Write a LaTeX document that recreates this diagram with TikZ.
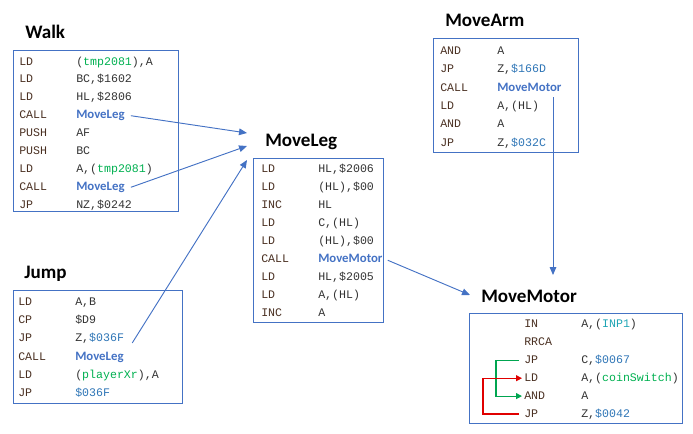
\documentclass[tikz,border=0pt]{standalone}
\usepackage{fontspec}
\setmainfont{Carlito}
\setsansfont{Carlito}
\setmonofont{Liberation Mono}
\usepackage{xcolor}
\usetikzlibrary{arrows.meta, positioning}

\definecolor{boxblue}{HTML}{4472C4}
\definecolor{hexblue}{HTML}{2E75B6}
\definecolor{symgreen}{HTML}{00B050}
\definecolor{portteal}{HTML}{1FA5B5}
\definecolor{mnem}{HTML}{4A3022}
\definecolor{optext}{HTML}{333333}
\definecolor{jumpgreen}{HTML}{00A550}
\definecolor{jumpred}{HTML}{E00000}

\newcommand{\mn}[1]{\makebox[42.75pt][l]{\color{mnem}#1}}
\newcommand{\hexv}[1]{{\color{hexblue}#1}}
\newcommand{\symb}[1]{{\color{symgreen}#1}}
\newcommand{\port}[1]{{\color{portteal}#1}}
\newcommand{\callee}[1]{{\sffamily\bfseries\fontsize{9.6}{12}\selectfont\color{boxblue}#1}}

\begin{document}
\begin{tikzpicture}[x=0.75pt,y=-0.75pt,>={Triangle[length=6pt,width=5pt]},
	title/.style={anchor=base west,inner sep=0pt,font=\sffamily\bfseries\fontsize{14.3}{16}\selectfont},
	code/.style={anchor=base west,inner sep=0pt,text height=6.5pt,text depth=2pt,text=optext,font=\ttfamily\fontsize{8.7}{10}\selectfont},
	codebox/.style={draw=boxblue,line width=0.6pt},
	call/.style={->,draw=boxblue,line width=0.7pt},
	jumpto/.style={-{Triangle[length=4.5pt,width=4.5pt]},line width=0.8pt}]

	\useasboundingbox (0,0) rectangle (693,433);

	% Walk
	\node[title] (walk-title) at (25,38) {Walk};
	\draw[codebox] (13,50) rectangle (178,211);
	\foreach \t [count=\i] in {{\mn{LD}(\symb{tmp2081}),A},{\mn{LD}BC,\$1602},{\mn{LD}HL,\$2806},
		{\mn{CALL}\callee{MoveLeg}},{\mn{PUSH}AF},{\mn{PUSH}BC},{\mn{LD}A,(\symb{tmp2081})},
		{\mn{CALL}\callee{MoveLeg}},{\mn{JP}NZ,\$0242}}
		\node[code] (walk-\i) at (19,{65+17.9*(\i-1)}) {\t};

	% Jump
	\node[title] (jump-title) at (24,278) {Jump};
	\draw[codebox] (13,290) rectangle (182,403);
	\foreach \t [count=\i] in {{\mn{LD}A,B},{\mn{CP}\$D9},{\mn{JP}Z,\hexv{\$036F}},
		{\mn{CALL}\callee{MoveLeg}},{\mn{LD}(\symb{playerXr}),A},{\mn{JP}\hexv{\$036F}}}
		\node[code] (jump-\i) at (18,{305.5+18.2*(\i-1)}) {\t};

	% MoveLeg
	\node[title] (ml-title) at (265,146) {MoveLeg};
	\draw[codebox] (253,158) rectangle (383,322);
	\foreach \t [count=\i] in {{\mn{LD}HL,\$2006},{\mn{LD}(HL),\$00},{\mn{INC}HL},{\mn{LD}C,(HL)},
		{\mn{LD}(HL),\$00},{\mn{CALL}\callee{MoveMotor}},{\mn{LD}HL,\$2005},{\mn{LD}A,(HL)},{\mn{INC}A}}
		\node[code] (ml-\i) at (261,{172+18.05*(\i-1)}) {\t};

	% MoveArm
	\node[title] (ma-title) at (445,26) {MoveArm};
	\draw[codebox] (433,38) rectangle (578,152);
	\foreach \t [count=\i] in {{\mn{AND}A},{\mn{JP}Z,\hexv{\$166D}},{\mn{CALL}\callee{MoveMotor}},
		{\mn{LD}A,(HL)},{\mn{AND}A},{\mn{JP}Z,\hexv{\$032C}}}
		\node[code] (ma-\i) at (440,{54.3+18.4*(\i-1)}) {\t};

	% MoveMotor
	\node[title] (mm-title) at (481,302) {MoveMotor};
	\draw[codebox] (469,313) rectangle (682,423);
	\foreach \t [count=\i] in {{\mn{IN}A,(\port{INP1})},{\mn{RRCA}},{\mn{JP}C,\hexv{\$0067}},
		{\mn{LD}A,(\symb{coinSwitch})},{\mn{AND}A},{\mn{JP}Z,\hexv{\$0042}}}
		\node[code] (mm-\i) at (524,{327.5+17.9*(\i-1)}) {\t};

	% call targets
	\coordinate (ml-in1) at (247,133);
	\coordinate (ml-in2) at (247,146);
	\coordinate (ml-in3) at (247,160);
	\coordinate (mm-in1) at (470,295);
	\coordinate (mm-in2) at (553,275);

	\draw[call] ([shift={(6,0)}]walk-4.east) -- (ml-in1);
	\draw[call] ([shift={(6,0)}]walk-8.east) -- (ml-in2);
	\draw[call] ([shift={(8,4)}]jump-3.east) -- (ml-in3);
	\draw[call] ([shift={(5,1)}]ml-6.east) -- (mm-in1);
	\draw[call] (mm-in2 |- ma-3.south) ++(0,3) -- (mm-in2);

	% jumps inside MoveMotor
	\draw[jumpto,draw=jumpgreen] ([shift={(-5,0)}]mm-3.west) -- ++(-23,0) |- ([shift={(-2,0)}]mm-5.west);
	\draw[jumpto,draw=jumpred] ([shift={(-5,0)}]mm-6.west) -- ++(-36,0) |- ([shift={(-2,0)}]mm-4.west);

\end{tikzpicture}
\end{document}
